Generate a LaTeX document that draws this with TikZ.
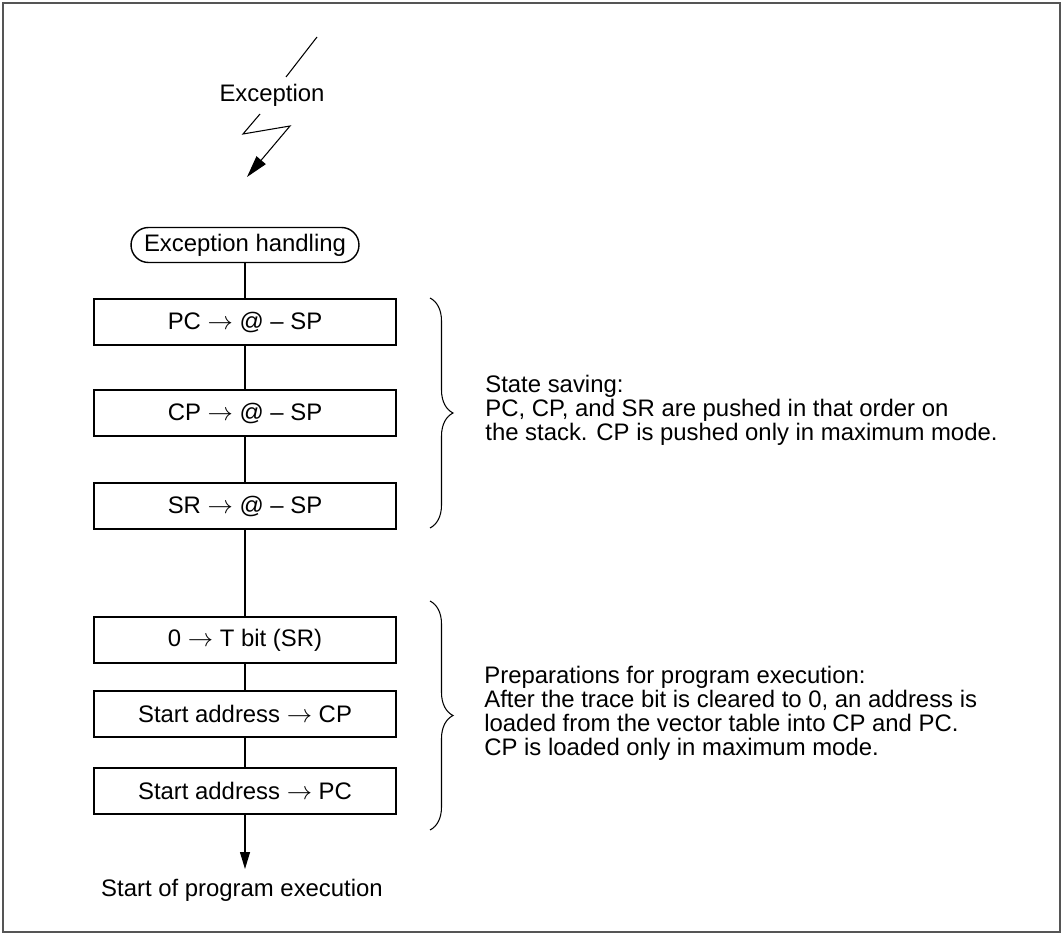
\documentclass[tikz,border=0pt]{standalone}
\usepackage{fontspec}
\setmainfont{Liberation Sans}
\usetikzlibrary{arrows.meta,decorations.pathreplacing}
\definecolor{frameGray}{HTML}{555555}
\tikzset{
    stepbox/.style={draw=black, line width=1pt, minimum width=6.04cm, minimum height=0.91cm, inner sep=0pt, align=center},
    startbox/.style={draw=black, line width=0.8pt, rounded corners=0.35cm, minimum width=4.56cm, minimum height=0.7cm, inner sep=0pt},
    flowline/.style={line width=0.6pt},
    flowarrow/.style={line width=0.6pt, -{Triangle[length=0.34cm, width=0.2cm]}},
    notebrace/.style={decorate, decoration={brace, amplitude=0.46cm}, line width=0.6pt},
    notetext/.style={align=left, anchor=west, inner sep=0pt, font=\fontsize{13.6}{13.6}\selectfont}
}

\begin{document}
\begin{tikzpicture}[x=0.02cm, y=-0.02cm, every node/.style={font=\fontsize{13.6}{14}\selectfont}]
    \useasboundingbox (0,0) rectangle (1064,935);
    \draw[frameGray, line width=1.2pt] (3,3) rectangle (1060,932);

    % lightning
    \coordinate (boltA) at (317,37);
    \coordinate (boltB) at (286,77);
    \coordinate (boltC) at (260,114);
    \coordinate (boltD) at (243,134);
    \coordinate (boltE) at (290,126);
    \coordinate (boltF) at (247,177);
    \node (exc) at (272,95) {Exception};
    \draw[flowline] (boltA) -- (boltB);
    \draw[flowline, -{Triangle[length=0.44cm, width=0.24cm]}] (boltC) -- (boltD) -- (boltE) -- (boltF);

    \node[startbox] (hdl) at (245,245) {Exception handling};
    \foreach \n/\y/\t in {1/322/{PC $\rightarrow$ @ -- SP},
                          2/413/{CP $\rightarrow$ @ -- SP},
                          3/506/{SR $\rightarrow$ @ -- SP},
                          4/640/{0 $\rightarrow$ T bit (SR)},
                          5/714/{Start address $\rightarrow$ CP},
                          6/791/{Start address $\rightarrow$ PC}}{
        \node[stepbox] (b\n) at (245,\y) {\t};
    }
    \draw[flowline] (hdl) -- (b1);
    \foreach \a/\b in {1/2,2/3,3/4,4/5,5/6}{
        \draw[flowline] (b\a) -- (b\b);
    }
    \coordinate (endtip) at (245,869);
    \draw[flowarrow] (b6) -- (endtip);
    \node (endtxt) at (242,890) {Start of program execution};

    % notes
    \draw[notebrace] (430,298) -- (430,528);
    \draw[notebrace] (430,601) -- (430,830);
    \node[notetext] (note1) at (485,410) {State saving:\\PC, CP, and SR are pushed in that order on\\the stack. CP is pushed only in maximum mode.};
    \node[notetext] (note2) at (484,713) {Preparations for program execution:\\After the trace bit is cleared to 0, an address is\\loaded from the vector table into CP and PC.\\CP is loaded only in maximum mode.};
\end{tikzpicture}
\end{document}
